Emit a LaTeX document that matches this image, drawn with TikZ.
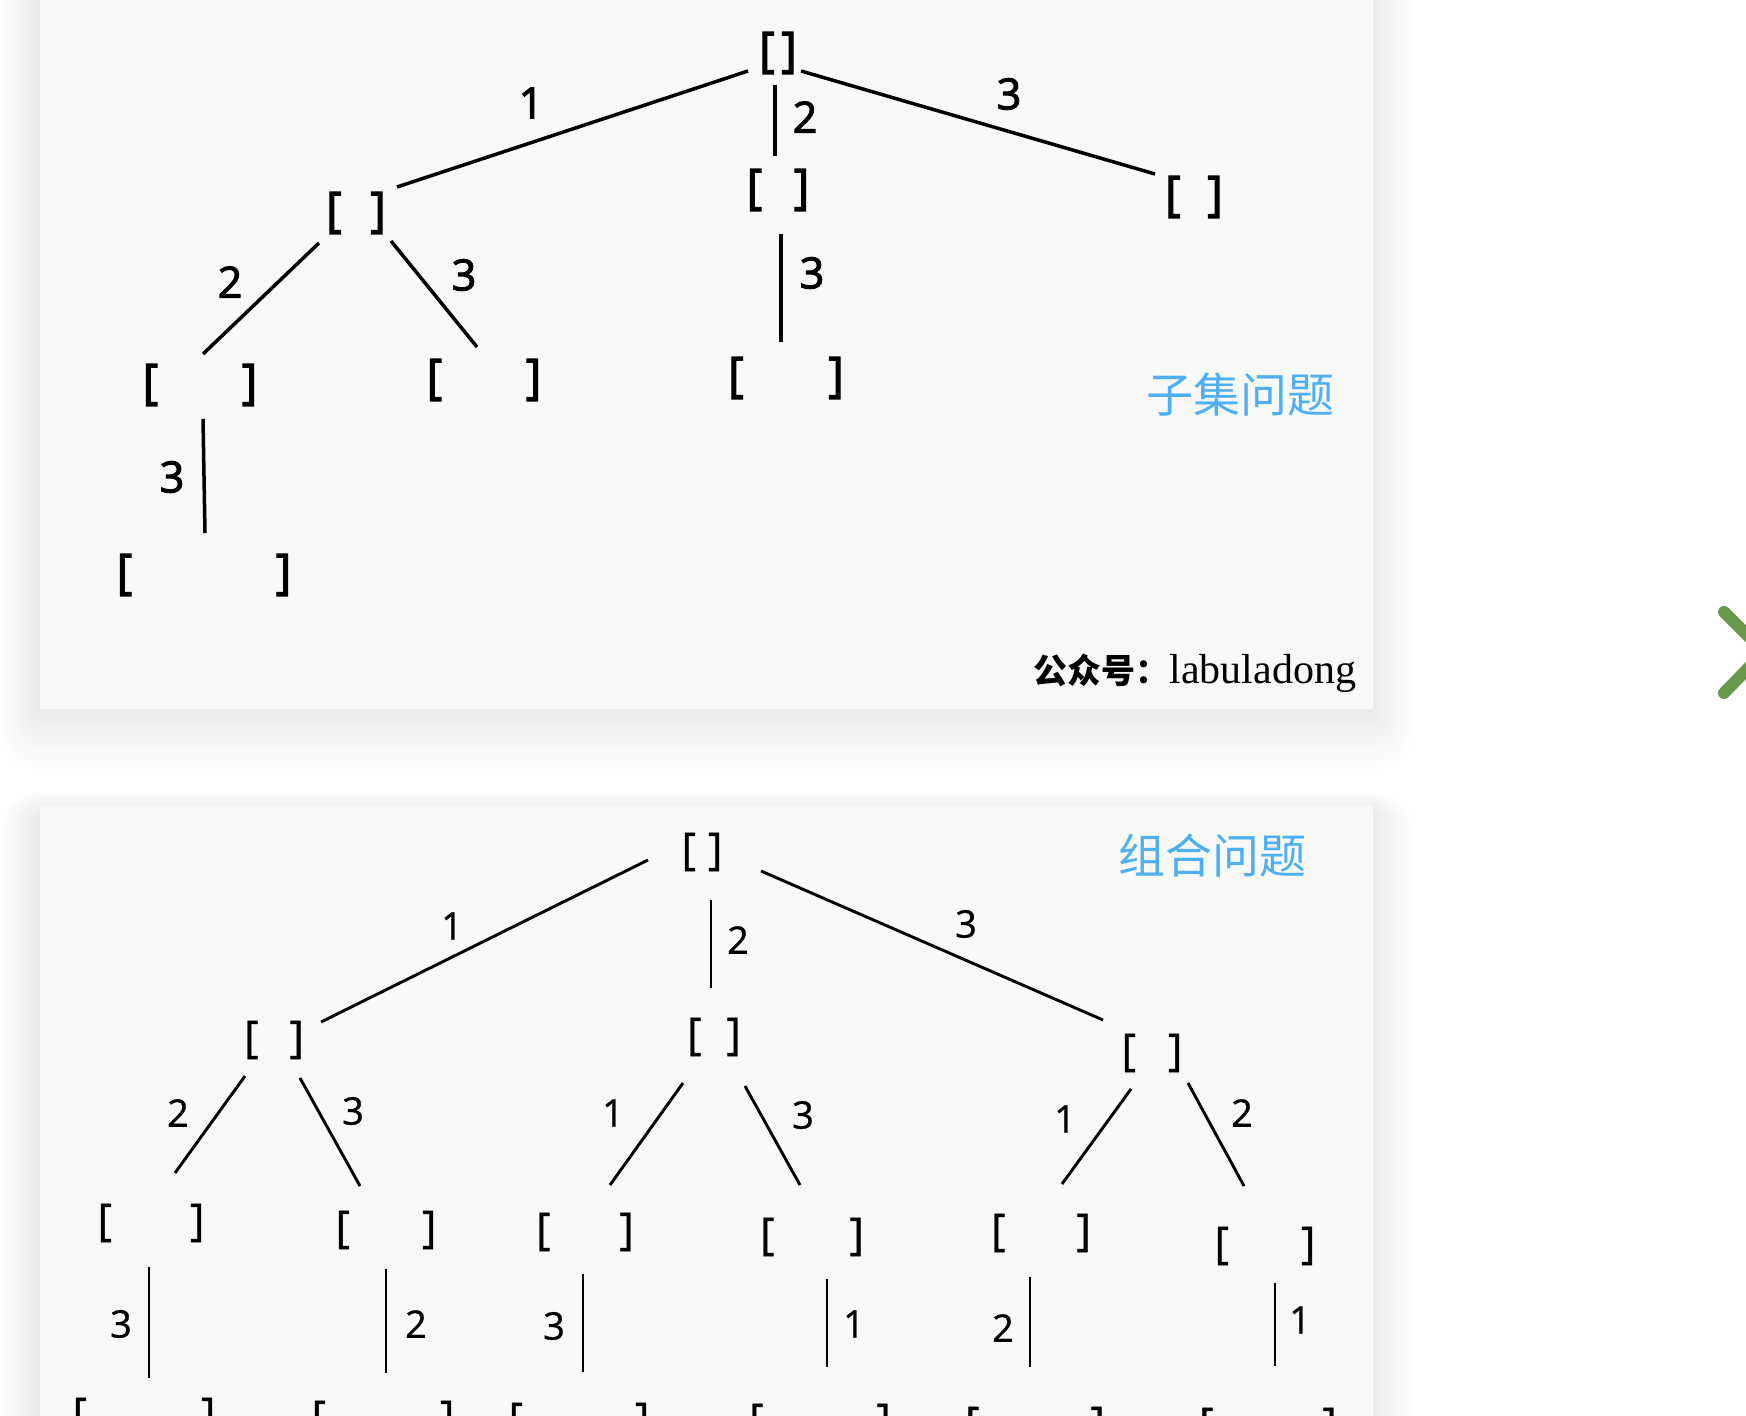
\documentclass[tikz,border=0pt]{standalone}
\usepackage{fontspec}
\setmainfont{Open Sans}
\newfontfamily\cjk{Noto Sans CJK SC}
\newfontfamily\serifo{Liberation Serif}
\newfontfamily\gruesa{Open Sans}[FakeBold=2.5]
\newfontfamily\media{Open Sans}[FakeBold=0.8]
\definecolor{azul}{RGB}{78,176,243}
\definecolor{verde}{RGB}{106,152,74}
\definecolor{papel}{RGB}{248,248,246}
\newcommand{\cor}[1]{\makebox[\dimexpr #1pt/2\relax]{[\hfill]}}

\begin{document}
\begin{tikzpicture}[x=0.5pt,y=-0.5pt,
    ramaA/.style={line width=1.75pt},
    ramaB/.style={line width=1.45pt},
    nodoA/.style={inner sep=0pt,font=\gruesa\fontsize{24}{24}\selectfont},
    nodoB/.style={inner sep=0pt,font=\media\fontsize{22}{22}\selectfont},
    etiqA/.style={inner sep=0pt,font=\gruesa\fontsize{21.5}{22}\selectfont},
    etiqB/.style={inner sep=0pt,font=\media\fontsize{19}{19}\selectfont},
    titulo/.style={inner sep=0pt,text=azul,font=\cjk\fontsize{23.5}{24}\selectfont}]
    \useasboundingbox (0,0) rectangle (1746,1416);
    \clip (0,0) rectangle (1746,1416);
    \fill[white] (0,0) rectangle (1746,1416);
    % Sombras de las hojas
    \foreach \d in {1,...,20}
        \fill[black,opacity=.0045,rounded corners=\d pt] (40-2*\d,-60) rectangle (1373+2*\d,709+3*\d);
    \foreach \d in {1,...,20}
        \fill[black,opacity=.004,rounded corners=\d pt] (40-2*\d,812-\d) rectangle (1373+2*\d,1480);
    % Hojas
    \fill[papel] (40,-10) rectangle (1373,709);
    \fill[papel] (40,806) rectangle (1373,1440);
    % Arbol de subconjuntos
    \node[nodoA] (aR) at (778,53) {\cor{38}};
    \node[nodoA] (aL1) at (356,213) {\cor{60}};
    \node[nodoA] (aM1) at (778,190) {\cor{63}};
    \node[nodoA] (aR1) at (1194,197) {\cor{58}};
    \node[nodoA] (aL2) at (200,385) {\cor{115}};
    \node[nodoA] (aM2) at (484,380) {\cor{115}};
    \node[nodoA] (aC2) at (786,378) {\cor{116}};
    \node[nodoA] (aL3) at (204,575) {\cor{175}};
    \draw[ramaA] ([shift={(-30,18)}]aR.center) -- ([shift={(41,-26)}]aL1.center);
    \draw[ramaA] ([shift={(-3,32)}]aR.center) -- ([shift={(-3,-34)}]aM1.center);
    \draw[ramaA] ([shift={(23,18)}]aR.center) -- ([shift={(-39,-23)}]aR1.center);
    \draw[ramaA] ([shift={(-37,30)}]aL1.center) -- ([shift={(3,-31)}]aL2.center);
    \draw[ramaA] ([shift={(35,28)}]aL1.center) -- ([shift={(-7,-33)}]aM2.center);
    \draw[ramaA] ([shift={(3,44)}]aM1.center) -- ([shift={(-5,-36)}]aC2.center);
    \draw[ramaA] ([shift={(3,34)}]aL2.center) -- ([shift={(1,-42)}]aL3.center);
    \node[etiqA] (nA1) at (531,103) {1};
    \node[etiqA] (nA2) at (805,117) {2};
    \node[etiqA] (nA3) at (1009,94) {3};
    \node[etiqA] (nA4) at (230,282) {2};
    \node[etiqA] (nA5) at (464,275) {3};
    \node[etiqA] (nA6) at (812,273) {3};
    \node[etiqA] (nA7) at (172,477) {3};
    \node[titulo] (tS) at (1240,395) {子集问题};
    \node[inner sep=0pt,anchor=base west] (fA) at (1033,684)
        {{\cjk\bfseries\fontsize{17}{17}\selectfont 公众号：}{\serifo\fontsize{21}{21}\selectfont labuladong}};
    % Arbol de combinaciones
    \node[nodoB] (bR) at (702,852) {\cor{41}};
    \node[nodoB] (bL1) at (274,1040) {\cor{60}};
    \node[nodoB] (bM1) at (714,1037) {\cor{54}};
    \node[nodoB] (bR1) at (1152,1053) {\cor{61}};
    \node[nodoB] (bA2) at (151,1223) {\cor{107}};
    \node[nodoB] (bB2) at (386,1230) {\cor{101}};
    \node[nodoB] (bC2) at (585,1232) {\cor{98}};
    \node[nodoB] (bD2) at (812,1237) {\cor{104}};
    \node[nodoB] (bE2) at (1041,1233) {\cor{100}};
    \node[nodoB] (bF2) at (1265,1246) {\cor{101}};
    \node[nodoB] (bA3) at (144,1417) {\cor{143}};
    \node[nodoB] (bB3) at (383,1420) {\cor{143}};
    \node[nodoB] (bC3) at (579,1422) {\cor{141}};
    \node[nodoB] (bD3) at (820,1423) {\cor{142}};
    \node[nodoB] (bE3) at (1035,1426) {\cor{140}};
    \node[nodoB] (bF3) at (1268,1427) {\cor{138}};
    \draw[ramaB] ([shift={(-54,8)}]bR.center) -- ([shift={(47,-18)}]bL1.center);
    \draw[ramaB] ([shift={(9,48)}]bR.center) -- ([shift={(-3,-49)}]bM1.center);
    \draw[ramaB] ([shift={(59,19)}]bR.center) -- ([shift={(-49,-33)}]bR1.center);
    \draw[ramaB] ([shift={(-29,36)}]bL1.center) -- ([shift={(24,-50)}]bA2.center);
    \draw[ramaB] ([shift={(26,38)}]bL1.center) -- ([shift={(-26,-44)}]bB2.center);
    \draw[ramaB] ([shift={(-31,46)}]bM1.center) -- ([shift={(25,-47)}]bC2.center);
    \draw[ramaB] ([shift={(31,49)}]bM1.center) -- ([shift={(-12,-52)}]bD2.center);
    \draw[ramaB] ([shift={(-21,36)}]bR1.center) -- ([shift={(21,-49)}]bE2.center);
    \draw[ramaB] ([shift={(36,30)}]bR1.center) -- ([shift={(-21,-60)}]bF2.center);
    \draw[ramaB] ([shift={(-2,44)}]bA2.center) -- ([shift={(5,-39)}]bA3.center);
    \draw[ramaB] ([shift={(0,39)}]bB2.center) -- ([shift={(3,-47)}]bB3.center);
    \draw[ramaB] ([shift={(-2,42)}]bC2.center) -- ([shift={(4,-50)}]bC3.center);
    \draw[ramaB] ([shift={(15,42)}]bD2.center) -- ([shift={(7,-56)}]bD3.center);
    \draw[ramaB] ([shift={(-11,44)}]bE2.center) -- ([shift={(-5,-59)}]bE3.center);
    \draw[ramaB] ([shift={(10,37)}]bF2.center) -- ([shift={(7,-61)}]bF3.center);
    \node[etiqB] (nB1) at (452,926) {1};
    \node[etiqB] (nB2) at (738,940) {2};
    \node[etiqB] (nB3) at (966,924) {3};
    \node[etiqB] (nB4) at (178,1113) {2};
    \node[etiqB] (nB5) at (353,1111) {3};
    \node[etiqB] (nB6) at (613,1113) {1};
    \node[etiqB] (nB7) at (803,1115) {3};
    \node[etiqB] (nB8) at (1065,1119) {1};
    \node[etiqB] (nB9) at (1242,1113) {2};
    \node[etiqB] (nB10) at (121,1324) {3};
    \node[etiqB] (nB11) at (416,1324) {2};
    \node[etiqB] (nB12) at (554,1326) {3};
    \node[etiqB] (nB13) at (854,1324) {1};
    \node[etiqB] (nB14) at (1003,1328) {2};
    \node[etiqB] (nB15) at (1300,1320) {1};
    \node[titulo] (tC) at (1212,856) {组合问题};
    % Flecha lateral
    \draw[verde,line width=6pt,line cap=round,line join=round] (1724,612) -- (1764,652) -- (1724,693);
\end{tikzpicture}
\end{document}
